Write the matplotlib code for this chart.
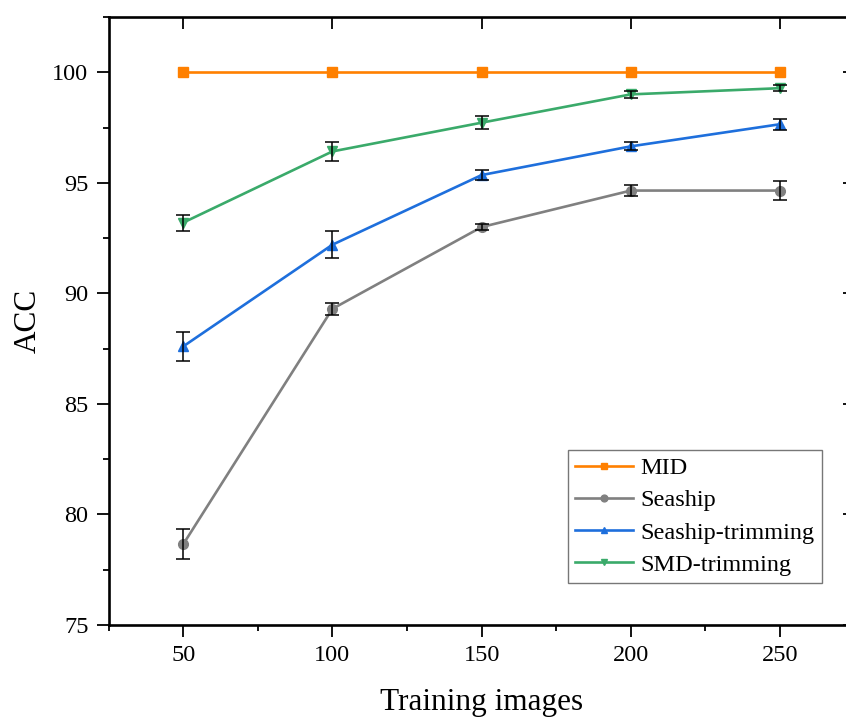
import matplotlib
matplotlib.use("Agg")
import matplotlib.pyplot as plt
from matplotlib.ticker import MultipleLocator, NullLocator

plt.rcParams['font.family'] = ['Liberation Serif', 'DejaVu Serif']
plt.rcParams['mathtext.fontset'] = 'stix'

# data
train_images = [50, 100, 150, 200, 250]

mid = [100, 100, 100, 100, 100]

seaship = [78.65, 89.3, 93.0, 94.65, 94.65]
seaship_err = [0.68, 0.26, 0.13, 0.23, 0.43]

seaship_trim = [87.6, 92.2, 95.35, 96.65, 97.65]
seaship_trim_err = [0.66, 0.62, 0.22, 0.18, 0.24]

smd_trim = [93.2, 96.42, 97.72, 99.0, 99.28]
smd_trim_err = [0.36, 0.42, 0.29, 0.15, 0.13]

labels = ['MID', 'Seaship', 'Seaship-trimming', 'SMD-trimming']
colors = ['#FF8000', '#808080', '#1E6FDC', '#3AAA6A']
markers = ['s', 'o', '^', 'v']

fig = plt.figure(figsize=(8.46, 7.17), dpi=100)
# axes runs a bit past the right edge, like the cropped original
ax = fig.add_axes([108.6 / 846, 92 / 717, 746 / 846, 608 / 717])

series = [(mid, None), (seaship, seaship_err),
          (seaship_trim, seaship_trim_err), (smd_trim, smd_trim_err)]

for (vals, err), lab, col, mk in zip(series, labels, colors, markers):
    ax.plot(train_images, vals, color=col, marker=mk, markersize=7,
            linewidth=1.9, label=lab, zorder=3)
    if err is not None:
        ax.errorbar(train_images, vals, yerr=err, fmt='none', ecolor='black',
                    elinewidth=1.1, capsize=5, capthick=1.1, zorder=4)

ax.set_xlim(25, 275)
ax.set_ylim(75, 102.5)
ax.xaxis.set_major_locator(MultipleLocator(50))
ax.xaxis.set_minor_locator(MultipleLocator(25))
ax.yaxis.set_major_locator(MultipleLocator(5))
ax.yaxis.set_minor_locator(MultipleLocator(2.5))

ax.tick_params(which='major', direction='out', length=8.5, width=1.3,
               labelsize=17.5, pad=6)
ax.tick_params(which='minor', direction='out', length=4, width=1.3)

# ticks on top and right point inward, majors only
top = ax.secondary_xaxis('top')
top.xaxis.set_major_locator(MultipleLocator(50))
top.xaxis.set_minor_locator(NullLocator())
top.tick_params(direction='in', length=8.5, width=1.3, labeltop=False)
right = ax.secondary_yaxis('right')
right.yaxis.set_major_locator(MultipleLocator(5))
right.yaxis.set_minor_locator(NullLocator())
right.tick_params(direction='in', length=8.5, width=1.3, labelright=False)

for sp in top.spines.values():
    sp.set_visible(False)
for sp in right.spines.values():
    sp.set_visible(False)
for sp in [ax.spines['left'], ax.spines['bottom'], ax.spines['top']]:
    sp.set_linewidth(1.9)
# the right border lies outside the cropped picture
ax.spines['right'].set_visible(False)

ax.set_xlabel('Training images', fontsize=22.5, labelpad=16)
ax.set_ylabel('ACC', fontsize=22.5, labelpad=7)

leg = ax.legend(loc='lower right', bbox_to_anchor=(0.9563, 0.069),
                borderaxespad=0, fontsize=17.5, frameon=True, fancybox=False,
                handlelength=2.4, handletextpad=0.3, labelspacing=0.42,
                borderpad=0.3, markerscale=0.7)
leg.get_frame().set_edgecolor('#555555')
leg.get_frame().set_linewidth(1.0)

fig.savefig('out.png', dpi=100)
